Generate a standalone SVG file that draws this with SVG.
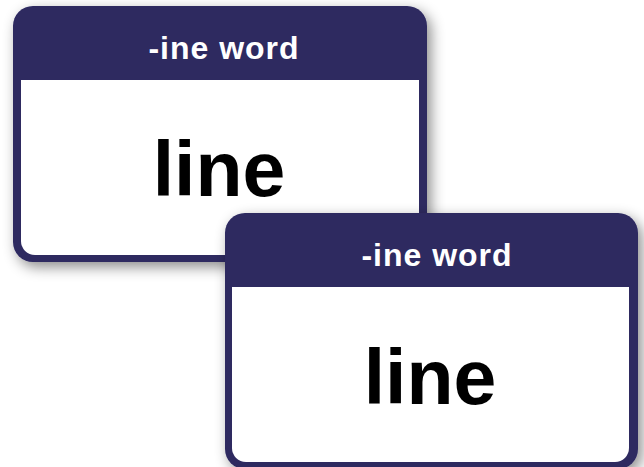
<svg xmlns="http://www.w3.org/2000/svg" width="644" height="467" viewBox="0 0 644 467">
<defs>
<filter id="sh" x="-10%" y="-10%" width="125%" height="130%">
<feDropShadow dx="4" dy="5" stdDeviation="7" flood-color="#000" flood-opacity="0.45"/>
</filter>
</defs>
<style>
.frame{fill:#2d2960;}
.body{fill:#ffffff;}
.hdr{font-family:"Liberation Sans",Arial,sans-serif;font-weight:bold;font-size:32px;letter-spacing:1px;fill:#ffffff;text-anchor:middle;}
.word{font-family:"Liberation Sans",Arial,sans-serif;font-weight:bold;font-size:77px;fill:#000000;text-anchor:middle;}
</style>
<rect width="644" height="467" fill="#ffffff"/>
<g id="card1">
<rect class="frame" x="13" y="6" width="414" height="256" rx="20" filter="url(#sh)"/>
<path class="body" d="M21 80 H419 V241 A14 14 0 0 1 405 255 H35 A14 14 0 0 1 21 241 Z"/>
<text class="hdr" x="224" y="59">-ine word</text>
<text class="word" x="219" y="196">line</text>
</g>
<g id="card2">
<rect class="frame" x="225" y="213" width="413" height="256" rx="20" filter="url(#sh)"/>
<path class="body" d="M232 287 H629 V448 A14 14 0 0 1 615 462 H246 A14 14 0 0 1 232 448 Z"/>
<text class="hdr" x="437" y="266">-ine word</text>
<text class="word" x="430" y="404">line</text>
</g>
<g id="connectors"/>
</svg>
